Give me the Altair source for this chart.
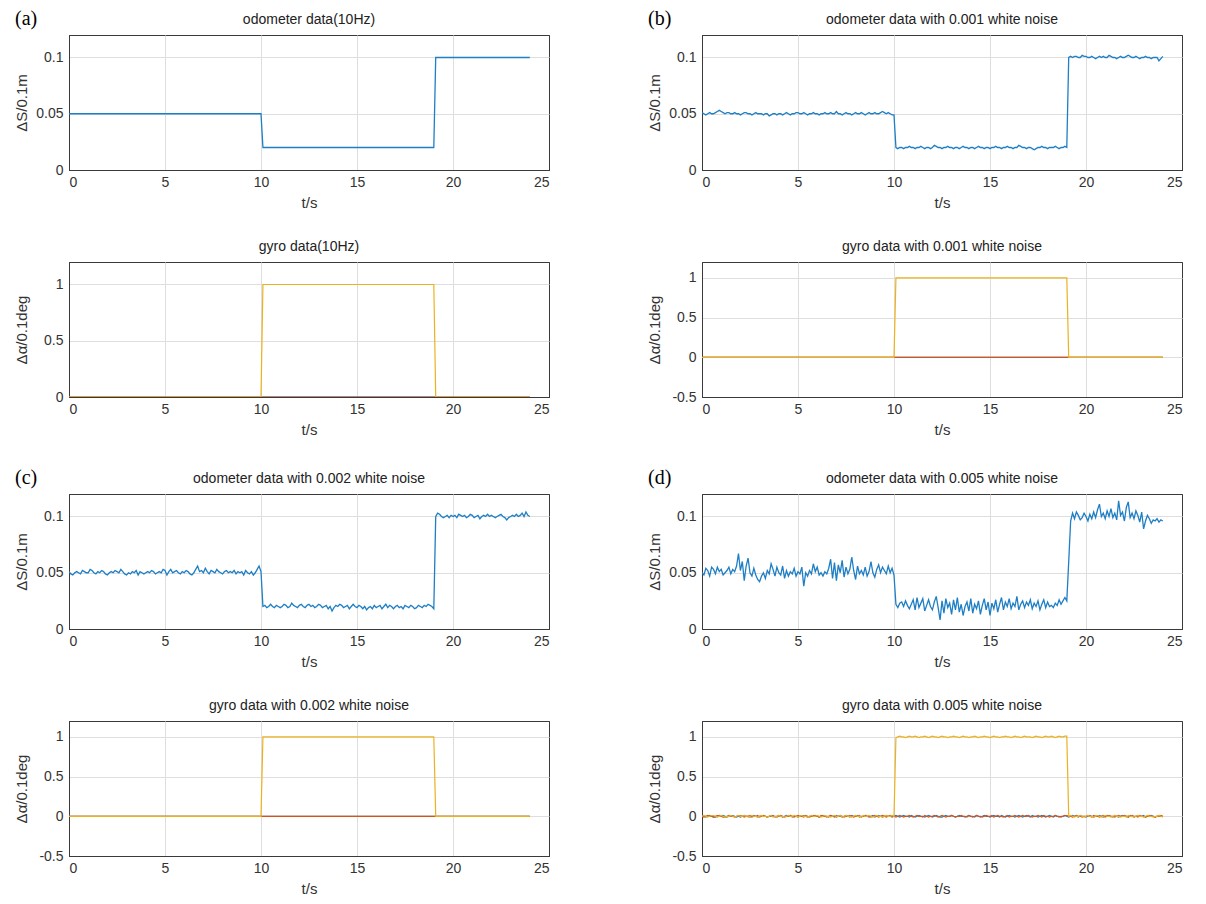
import altair as alt
import pandas as pd

# ---------------- data ----------------
# sampling instants of the 10 Hz records (s)
T = [i / 10 for i in range(241)]

# (a) noise-free profiles, given by their breakpoints
A_T = [0, 10, 10.1, 19, 19.1, 24]
A_ODO = [0.05, 0.05, 0.02, 0.02, 0.1, 0.1]
A_GZ = [0, 0, 1, 1, 0, 0]
FLAT_T = [0, 24]
FLAT_0 = [0, 0]

# (b) odometer with 0.001 white noise
B_ODO = [
    0.051, 0.050, 0.049, 0.050, 0.051, 0.050, 0.050, 0.051, 0.052, 0.053,
    0.052, 0.051, 0.050, 0.051, 0.051, 0.050, 0.050, 0.051, 0.050, 0.050,
    0.049, 0.050, 0.051, 0.051, 0.050, 0.050, 0.049, 0.050, 0.051, 0.050,
    0.050, 0.050, 0.049, 0.050, 0.050, 0.048, 0.049, 0.050, 0.050, 0.049,
    0.050, 0.050, 0.049, 0.050, 0.051, 0.050, 0.049, 0.050, 0.050, 0.051,
    0.051, 0.050, 0.050, 0.051, 0.050, 0.049, 0.050, 0.050, 0.051, 0.050,
    0.050, 0.049, 0.050, 0.050, 0.051, 0.050, 0.050, 0.051, 0.050, 0.050,
    0.052, 0.050, 0.050, 0.049, 0.050, 0.051, 0.050, 0.050, 0.049, 0.050,
    0.051, 0.050, 0.050, 0.051, 0.050, 0.049, 0.050, 0.051, 0.050, 0.050,
    0.051, 0.050, 0.050, 0.051, 0.052, 0.051, 0.050, 0.051, 0.050, 0.049,
    0.049, 0.020, 0.019, 0.020, 0.020, 0.019, 0.020, 0.020, 0.021, 0.020,
    0.020, 0.019, 0.020, 0.020, 0.021, 0.020, 0.019, 0.020, 0.020, 0.019,
    0.020, 0.022, 0.021, 0.020, 0.020, 0.019, 0.020, 0.020, 0.021, 0.020,
    0.020, 0.019, 0.020, 0.020, 0.019, 0.020, 0.021, 0.020, 0.020, 0.019,
    0.020, 0.020, 0.019, 0.020, 0.021, 0.020, 0.020, 0.019, 0.020, 0.020,
    0.019, 0.020, 0.020, 0.021, 0.020, 0.020, 0.019, 0.020, 0.020, 0.021,
    0.020, 0.020, 0.019, 0.020, 0.020, 0.022, 0.021, 0.020, 0.020, 0.019,
    0.020, 0.020, 0.019, 0.018, 0.019, 0.020, 0.020, 0.021, 0.020, 0.020,
    0.019, 0.020, 0.020, 0.020, 0.021, 0.020, 0.019, 0.020, 0.020, 0.021,
    0.020, 0.100, 0.101, 0.100, 0.101, 0.101, 0.100, 0.100, 0.102, 0.101,
    0.101, 0.100, 0.100, 0.101, 0.100, 0.099, 0.100, 0.101, 0.100, 0.101,
    0.100, 0.100, 0.102, 0.101, 0.100, 0.100, 0.099, 0.100, 0.101, 0.100,
    0.100, 0.101, 0.102, 0.101, 0.100, 0.100, 0.101, 0.100, 0.099, 0.100,
    0.100, 0.101, 0.100, 0.100, 0.099, 0.100, 0.100, 0.100, 0.097, 0.099,
    0.101,
]

# (c) odometer with 0.002 white noise
C_ODO = [
    0.051, 0.049, 0.048, 0.050, 0.051, 0.050, 0.049, 0.052, 0.051, 0.050,
    0.050, 0.053, 0.052, 0.050, 0.049, 0.051, 0.050, 0.052, 0.051, 0.049,
    0.048, 0.050, 0.051, 0.050, 0.052, 0.051, 0.050, 0.053, 0.051, 0.049,
    0.048, 0.050, 0.049, 0.051, 0.050, 0.052, 0.048, 0.051, 0.050, 0.049,
    0.050, 0.051, 0.050, 0.052, 0.051, 0.049, 0.050, 0.051, 0.050, 0.053,
    0.052, 0.048, 0.051, 0.053, 0.050, 0.051, 0.052, 0.050, 0.049, 0.051,
    0.050, 0.052, 0.051, 0.049, 0.048, 0.050, 0.053, 0.056, 0.051, 0.052,
    0.050, 0.054, 0.051, 0.049, 0.052, 0.051, 0.050, 0.053, 0.051, 0.050,
    0.049, 0.051, 0.052, 0.050, 0.051, 0.050, 0.052, 0.049, 0.051, 0.050,
    0.051, 0.048, 0.052, 0.050, 0.049, 0.051, 0.048, 0.050, 0.053, 0.056,
    0.051, 0.020, 0.021, 0.019, 0.020, 0.022, 0.020, 0.019, 0.021, 0.020,
    0.019, 0.020, 0.022, 0.021, 0.019, 0.020, 0.023, 0.021, 0.020, 0.019,
    0.021, 0.022, 0.020, 0.019, 0.021, 0.022, 0.020, 0.021, 0.019, 0.020,
    0.022, 0.021, 0.019, 0.020, 0.021, 0.018, 0.020, 0.016, 0.019, 0.021,
    0.020, 0.022, 0.021, 0.019, 0.020, 0.021, 0.018, 0.020, 0.022, 0.020,
    0.019, 0.021, 0.020, 0.018, 0.020, 0.017, 0.019, 0.020, 0.018, 0.021,
    0.019, 0.020, 0.021, 0.018, 0.020, 0.022, 0.019, 0.021, 0.020, 0.018,
    0.020, 0.021, 0.019, 0.020, 0.018, 0.021, 0.020, 0.019, 0.021, 0.020,
    0.018, 0.019, 0.021, 0.020, 0.019, 0.021, 0.020, 0.022, 0.021, 0.020,
    0.018, 0.100, 0.103, 0.102, 0.100, 0.099, 0.100, 0.101, 0.099, 0.101,
    0.100, 0.101, 0.099, 0.102, 0.101, 0.100, 0.101, 0.099, 0.100, 0.102,
    0.101, 0.099, 0.100, 0.101, 0.098, 0.100, 0.101, 0.100, 0.102, 0.100,
    0.101, 0.100, 0.099, 0.100, 0.101, 0.102, 0.100, 0.099, 0.097, 0.099,
    0.100, 0.101, 0.100, 0.102, 0.100, 0.101, 0.103, 0.100, 0.104, 0.101,
    0.100,
]

# (d) odometer with 0.005 white noise
D_ODO = [
    0.050, 0.048, 0.054, 0.052, 0.047, 0.055, 0.053, 0.049, 0.055, 0.051,
    0.053, 0.048, 0.050, 0.052, 0.055, 0.049, 0.053, 0.051, 0.056, 0.067,
    0.052, 0.060, 0.043, 0.056, 0.063, 0.050, 0.047, 0.054, 0.048, 0.044,
    0.042, 0.047, 0.050, 0.045, 0.052, 0.049, 0.058, 0.053, 0.047, 0.055,
    0.050, 0.048, 0.056, 0.045, 0.052, 0.047, 0.051, 0.049, 0.054, 0.047,
    0.051, 0.049, 0.055, 0.038, 0.050, 0.047, 0.052, 0.049, 0.058, 0.051,
    0.055, 0.048, 0.050, 0.047, 0.051, 0.049, 0.054, 0.062, 0.045, 0.059,
    0.043, 0.057, 0.050, 0.061, 0.046, 0.055, 0.049, 0.053, 0.064, 0.052,
    0.044, 0.056, 0.049, 0.052, 0.048, 0.055, 0.047, 0.051, 0.060, 0.050,
    0.046, 0.053, 0.057, 0.050, 0.055, 0.052, 0.049, 0.056, 0.050, 0.054,
    0.048, 0.022, 0.019, 0.023, 0.024, 0.020, 0.025, 0.021, 0.018, 0.022,
    0.026, 0.017, 0.028, 0.019, 0.023, 0.027, 0.016, 0.021, 0.026, 0.020,
    0.017, 0.024, 0.029, 0.019, 0.008, 0.025, 0.014, 0.027, 0.019, 0.023,
    0.013, 0.026, 0.017, 0.028, 0.015, 0.022, 0.012, 0.020, 0.024, 0.016,
    0.027, 0.014, 0.022, 0.018, 0.025, 0.013, 0.021, 0.027, 0.017, 0.024,
    0.012, 0.023, 0.018, 0.026, 0.015, 0.022, 0.028, 0.017, 0.024, 0.020,
    0.027, 0.018, 0.023, 0.020, 0.029, 0.017, 0.022, 0.025, 0.019, 0.024,
    0.021, 0.026, 0.018, 0.023, 0.020, 0.025, 0.017, 0.022, 0.026, 0.019,
    0.024, 0.020, 0.021, 0.019, 0.023, 0.021, 0.026, 0.022, 0.025, 0.028,
    0.025, 0.060, 0.096, 0.103, 0.098, 0.104, 0.101, 0.097, 0.099, 0.103,
    0.100, 0.096, 0.102, 0.098, 0.104, 0.099, 0.106, 0.111, 0.100, 0.103,
    0.098, 0.105, 0.100, 0.107, 0.099, 0.103, 0.097, 0.114, 0.101, 0.104,
    0.096, 0.108, 0.113, 0.099, 0.103, 0.098, 0.105, 0.101, 0.095, 0.104,
    0.089, 0.096, 0.101, 0.098, 0.094, 0.097, 0.096, 0.098, 0.095, 0.097,
    0.096,
]

# (d) gyro with 0.005 white noise: three channels
D_GX = [
    0.01, 0, -0.01, 0, 0.01, 0, -0.01, -0.01, 0, 0.01,
    0, 0.01, 0, -0.01, 0, 0.01, 0.01, 0, -0.01, 0,
    -0.01, 0, 0.01, 0, 0, -0.01, 0, 0.01, 0, -0.01,
    0, 0.01, 0.01, 0, -0.01, 0, 0, 0.01, -0.01, 0,
    0.01, 0, -0.01, 0, 0.01, 0, 0.01, -0.01, 0, 0,
    -0.01, 0, 0.01, 0.01, 0, -0.01, 0, 0, 0.01, 0,
    0, -0.01, 0, 0.01, 0, 0, -0.01, 0.01, 0, -0.01,
    0.01, 0, 0, -0.01, 0, 0.01, 0, -0.01, 0.01, 0,
    0, 0.01, -0.01, 0, 0, 0.01, 0, -0.01, 0, 0.01,
    -0.01, 0, 0.01, 0, -0.01, 0, 0.01, 0, 0, -0.01,
    0, 0.01, 0, -0.01, 0, 0.01, 0, 0, -0.01, 0.01,
    0, -0.01, 0, 0.01, 0, 0, -0.01, 0, 0.01, 0,
    -0.01, 0, 0.01, 0, -0.01, -0.01, 0, 0.01, 0, 0,
    0.01, 0, -0.01, 0, 0.01, 0, 0, -0.01, 0, 0.01,
    0, 0, -0.01, 0.01, 0, -0.01, 0, 0.01, 0, 0,
    -0.01, 0, 0.01, 0, 0, -0.01, 0.01, 0, -0.01, 0,
    0.01, 0, 0, -0.01, 0, 0.01, 0, -0.01, 0, 0.01,
    0, -0.01, 0.01, 0, 0, -0.01, 0, 0.01, 0, -0.01,
    0, 0.01, 0, -0.01, 0.01, 0, 0, -0.01, 0, 0.01,
    0, -0.01, 0, 0.01, 0, 0, -0.01, 0.01, 0, 0,
    -0.01, 0, 0.01, 0, -0.01, 0, 0, 0.01, 0, -0.01,
    0, 0.01, 0, 0, -0.01, 0.01, 0, -0.01, 0, 0.01,
    0, 0, -0.01, 0.01, 0, -0.01, 0, 0.01, 0, 0,
    0.01, -0.01, 0, 0, 0.01, 0, -0.01, 0, 0.01, 0,
    0,
]
D_GY = [
    0, -0.01, 0, 0.01, 0, 0, -0.01, 0, 0.01, 0.01,
    0, -0.01, -0.01, 0, 0.01, 0, 0, -0.01, 0, 0.01,
    0.01, 0, -0.01, 0, 0, 0.01, -0.01, 0, 0, 0.01,
    -0.01, 0, 0.01, 0, -0.01, 0, 0.01, 0, 0, -0.01,
    0, 0.01, 0, -0.01, 0, 0, 0.01, 0, -0.01, 0,
    0.01, 0, 0, -0.01, 0.01, 0, -0.01, 0, 0, 0.01,
    0, -0.01, 0.01, 0, 0, -0.01, 0, 0.01, 0, 0,
    -0.01, 0, 0.01, 0, -0.01, 0, 0, 0.01, 0, -0.01,
    0, 0, 0.01, -0.01, 0, 0.01, 0, 0, -0.01, 0,
    0.01, 0, -0.01, 0, 0.01, 0, -0.01, 0, 0.01, 0,
    0, -0.01, 0, 0.01, 0, -0.01, 0, 0, 0.01, 0,
    -0.01, 0, 0.01, 0, 0, -0.01, 0.01, 0, -0.01, 0,
    0, 0.01, 0, -0.01, 0, 0.01, 0, -0.01, 0, 0,
    0.01, 0, -0.01, 0, 0, 0.01, 0, 0, -0.01, 0.01,
    0, -0.01, 0, 0.01, 0, 0, -0.01, 0, 0.01, 0,
    0, 0.01, -0.01, 0, 0.01, 0, 0, -0.01, 0, 0.01,
    -0.01, 0, 0, 0.01, 0, -0.01, 0, 0.01, 0, 0,
    0.01, 0, -0.01, 0, 0, 0.01, 0, -0.01, 0.01, 0,
    0, -0.01, 0, 0, 0.01, 0, -0.01, 0, 0, 0.01,
    0.01, 0, 0, -0.01, 0, 0.01, 0, 0, -0.01, 0,
    0, 0.01, 0, -0.01, 0.01, 0, 0, -0.01, 0, 0.01,
    -0.01, 0, 0.01, 0, 0, -0.01, 0, 0.01, 0, 0,
    0.01, 0, -0.01, 0, 0.01, 0, 0, -0.01, 0.01, 0,
    0, -0.01, 0, 0.01, 0, 0, -0.01, 0, 0, 0.01,
    0,
]
D_GZ = [
    0, 0.01, 0, -0.01, 0, 0.01, 0.01, 0, -0.01, 0,
    0.01, 0, -0.01, 0, 0, 0.01, 0, -0.01, 0, 0.01,
    0, 0, 0.01, 0, -0.01, 0, 0.01, 0, 0, -0.01,
    0, 0.01, 0, 0, -0.01, 0, 0.01, -0.01, 0, 0,
    0.01, 0, 0, -0.01, 0, 0.01, 0, 0, 0.01, 0,
    -0.01, 0, 0.01, 0, 0, -0.01, 0, 0.01, 0, 0,
    0.01, 0, -0.01, 0, 0.01, 0, 0, -0.01, 0, 0.01,
    0, 0, 0.01, -0.01, 0, 0.01, 0, 0, -0.01, 0,
    0.01, 0, 0, -0.01, 0.01, 0, 0, 0.01, 0, -0.01,
    0, 0.01, 0, 0, -0.01, 0, 0.01, 0, 0, 0.01,
    0, 0.99, 1.0, 1.01, 1.0, 1.0, 0.99, 1.0, 1.01, 1.0,
    1.0, 1.01, 1.0, 0.99, 1.0, 1.0, 1.01, 1.0, 0.99, 1.0,
    1.01, 1.0, 1.0, 0.99, 1.0, 1.01, 1.0, 1.0, 0.99, 1.0,
    1.0, 1.01, 1.0, 1.0, 0.99, 1.0, 1.01, 1.0, 1.0, 0.99,
    1.0, 1.0, 1.01, 1.0, 0.99, 1.0, 1.0, 1.01, 1.0, 1.0,
    0.99, 1.0, 1.01, 1.0, 1.0, 0.99, 1.0, 1.0, 1.01, 1.0,
    1.0, 0.99, 1.0, 1.01, 1.0, 1.0, 0.99, 1.0, 1.01, 1.0,
    1.0, 1.0, 0.99, 1.0, 1.01, 1.0, 1.0, 0.99, 1.0, 1.01,
    1.0, 1.0, 1.01, 1.0, 0.99, 1.0, 1.01, 1.0, 1.0, 1.01,
    1.01, 0, 0.01, 0, -0.01, 0, 0, 0.01, 0, -0.01,
    0, 0.01, 0, 0, -0.01, 0, 0.01, 0, -0.01, 0,
    0.01, 0, 0, -0.01, 0, 0.01, 0, 0, -0.01, 0,
    0, -0.01, 0.01, 0, 0, -0.01, 0, 0.01, 0, 0,
    -0.01, 0, 0.01, 0, 0, -0.01, 0, 0, 0.01, 0,
    -0.01,
]

PANEL_LABELS = ["(a)", "(b)", "(c)", "(d)"]
ODO_TITLES = [
    "odometer data(10Hz)",
    "odometer data with 0.001 white noise",
    "odometer data with 0.002 white noise",
    "odometer data with 0.005 white noise",
]
GYRO_TITLES = [
    "gyro data(10Hz)",
    "gyro data with 0.001 white noise",
    "gyro data with 0.002 white noise",
    "gyro data with 0.005 white noise",
]
X_TICKS = [0, 5, 10, 15, 20, 25]
ODO_TICKS = [0, 0.05, 0.1]
GYRO_TICKS_A = [0, 0.5, 1]
GYRO_TICKS = [-0.5, 0, 0.5, 1]

# ---------------- style ----------------
BLUE = "#1f7fc4"
RED = "#D95319"
YELLOW = "#EDB120"
FRAME = "#3a3a3a"
GRID = "#dedede"
W, H = 480, 135
FONT = "Liberation Sans"
TXT = "#333333"

LABEL_EXPR = "replace(datum.label, '\u2212', '-')"


def xenc():
    return alt.X(
        "t:Q",
        scale=alt.Scale(domain=[0, 25], nice=False, zero=False),
        axis=alt.Axis(
            values=X_TICKS, title="t/s", format="~g",
            gridColor={"condition": {"test": "datum.value == 0 || datum.value == 25",
                                     "value": FRAME}, "value": GRID},
        ),
    )


def yenc(domain, ticks, title):
    return alt.Y(
        "v:Q",
        scale=alt.Scale(domain=domain, nice=False, zero=False),
        axis=alt.Axis(
            values=ticks, title=title, format="~g", labelExpr=LABEL_EXPR,
            gridColor={"condition": {"test": f"datum.value == {domain[0]}",
                                     "value": FRAME}, "value": GRID},
        ),
    )


def line(t, v, color, width, domain, ticks, title):
    df = pd.DataFrame({"t": t, "v": v})
    return (
        alt.Chart(df)
        .mark_line(color=color, strokeWidth=width, clip=True)
        .encode(x=xenc(), y=yenc(domain, ticks, title))
    )


def text_mark(text, **kw):
    df = pd.DataFrame({"lab": [text]})
    return alt.Chart(df).mark_text(**kw).encode(text="lab:N")


def panel_label(text):
    return text_mark(
        text, font="Liberation Serif", fontSize=20, color="#000000",
        align="left", baseline="middle",
    ).encode(x=alt.value(-54), y=alt.value(-16))


def panel_title(text):
    return text_mark(
        text, font=FONT, fontSize=14, color="#222222",
        align="center", baseline="middle",
    ).encode(x=alt.value(W / 2), y=alt.value(-15))


def odo_panel(i, t, v):
    dom, tk, tt = [0, 0.12], ODO_TICKS, "ΔS/0.1m"
    return alt.layer(
        line(t, v, BLUE, 1.3, dom, tk, tt),
        panel_label(PANEL_LABELS[i]),
        panel_title(ODO_TITLES[i]),
    ).properties(width=W, height=H)


def gyro_panel(i, series, dom, tk):
    tt = "Δα/0.1deg"
    layers = [line(t, v, c, 1.2, dom, tk, tt) for (t, v, c) in series]
    layers.append(panel_title(GYRO_TITLES[i]))
    return alt.layer(*layers).properties(width=W, height=H)


odo_a = odo_panel(0, A_T, A_ODO)
odo_b = odo_panel(1, T, B_ODO)
odo_c = odo_panel(2, T, C_ODO)
odo_d = odo_panel(3, T, D_ODO)

step_series = [(FLAT_T, FLAT_0, BLUE), (FLAT_T, FLAT_0, RED), (A_T, A_GZ, YELLOW)]
gyro_a = gyro_panel(0, step_series, [0, 1.2], GYRO_TICKS_A)
gyro_b = gyro_panel(1, step_series, [-0.5, 1.2], GYRO_TICKS)
gyro_c = gyro_panel(2, step_series, [-0.5, 1.2], GYRO_TICKS)
gyro_d = gyro_panel(3, [(T, D_GX, BLUE), (T, D_GY, RED), (T, D_GZ, YELLOW)],
                    [-0.5, 1.2], GYRO_TICKS)

S_IN = 28   # between odometer and gyro panels of one group
S_OUT = 29  # between the two rows of groups
S_H = 96    # between left and right groups

top = alt.hconcat(
    alt.vconcat(odo_a, gyro_a, spacing=S_IN),
    alt.vconcat(odo_b, gyro_b, spacing=S_IN),
    spacing=S_H,
)
bottom = alt.hconcat(
    alt.vconcat(odo_c, gyro_c, spacing=S_IN),
    alt.vconcat(odo_d, gyro_d, spacing=S_IN),
    spacing=S_H,
)

chart = (
    alt.vconcat(top, bottom, spacing=S_OUT)
    .configure(background="white", padding={"left": 5, "top": 0, "right": 5, "bottom": 0})
    .configure_view(stroke=FRAME, strokeWidth=1)
    .configure_axis(
        grid=True, gridWidth=1, domain=True, domainColor=FRAME, domainWidth=1,
        ticks=False,
        labelFont=FONT, labelFontSize=14, labelColor=TXT,
        titleFont=FONT, titleFontSize=15, titleFontWeight="normal", titleColor=TXT,
    )
    .configure_axisY(labelPadding=6, minExtent=34, maxExtent=34, titlePadding=6)
    .configure_axisX(labelPadding=5, titlePadding=6)
)

chart.save("out.html", embed_options={"renderer": "svg", "actions": False})
